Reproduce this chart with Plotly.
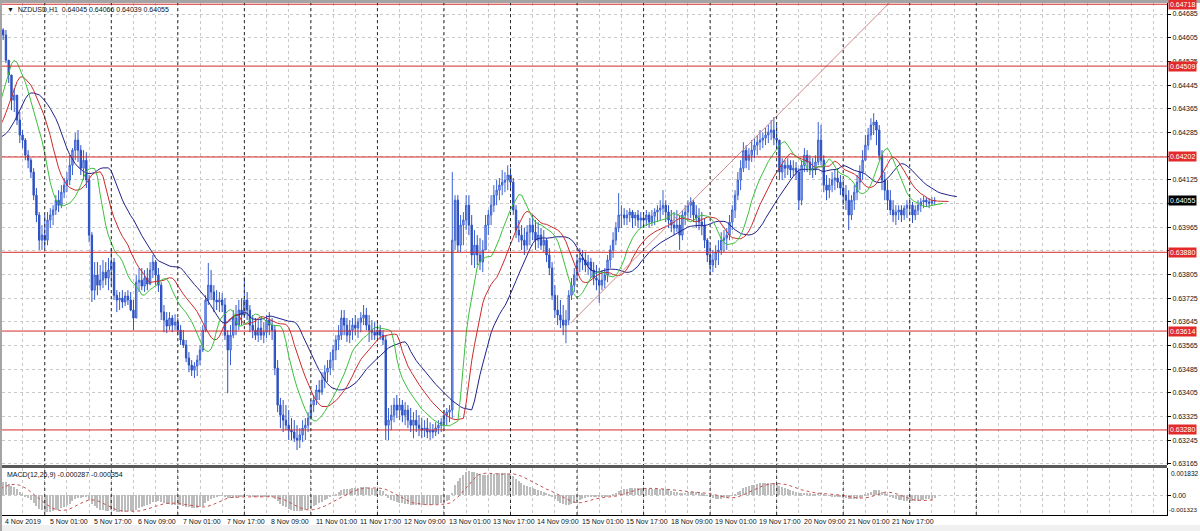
import numpy as np
import pandas as pd
import plotly.graph_objects as go
from plotly.subplots import make_subplots

# ---------------- data (NZDUSD H1, bar index 0 = 4 Nov 2019 00:00) ----------------
first_bar = -12
high = [
    # pre-history (off screen)
    0.64286,0.64293,0.64279,0.64289,0.64300,0.64286,0.64296,0.64303,0.64293,0.64306,0.64300,0.64310,
    0.64327,0.64377,0.64411,0.64455,0.64512,0.64563,0.64604,0.64631,0.64644,
    # 4 Nov
    0.64637,0.64631,0.64529,0.64468,0.64435,0.64411,0.64354,0.64293,0.64266,0.64225,0.64198,0.64164,0.64097,0.64016,0.63972,
    # 5 Nov
    0.64006,0.64016,0.64029,0.64039,0.64073,0.64090,0.64107,0.64131,0.64151,0.64208,0.64232,0.64283,0.64293,0.64242,0.64225,0.64218,0.64141,0.63948,0.63847,0.63847,0.63837,0.63854,0.63847,0.63861,
    # 6 Nov
    0.63894,0.63861,0.63752,0.63746,0.63752,0.63746,0.63752,0.63746,0.63719,0.63803,0.63827,0.63827,0.63820,0.63827,0.63847,0.63871,0.63854,0.63827,0.63779,0.63702,0.63678,0.63678,0.63668,0.63671,
    # 7 Nov
    0.63658,0.63634,0.63617,0.63584,0.63543,0.63516,0.63509,0.63533,0.63567,0.63634,0.63735,0.63844,0.63820,0.63769,0.63752,0.63746,0.63742,0.63725,0.63617,0.63634,0.63685,0.63702,0.63719,0.63725,
    # 8 Nov
    0.63796,0.63746,0.63702,0.63668,0.63658,0.63651,0.63658,0.63644,0.63668,0.63678,0.63658,0.63634,0.63516,0.63388,0.63381,0.63364,0.63347,0.63320,0.63313,0.63296,0.63286,0.63313,0.63320,0.63340,
    # 11 Nov
    0.63381,0.63398,0.63432,0.63448,0.63475,0.63499,0.63516,0.63543,0.63567,0.63600,0.63634,0.63685,0.63685,0.63658,0.63651,0.63658,0.63668,0.63658,0.63678,0.63702,0.63692,0.63668,0.63651,0.63644,
    # 12 Nov
    0.63644,0.63634,0.63617,0.63600,0.63354,0.63364,0.63388,0.63398,0.63388,0.63381,0.63374,0.63364,0.63354,0.63340,0.63347,0.63330,0.63320,0.63313,0.63320,0.63306,0.63300,0.63306,0.63313,0.63320,
    # 13 Nov
    0.63347,0.63354,0.63364,0.64151,0.64073,0.64073,0.64006,0.64016,0.64073,0.64073,0.64006,0.63955,0.63938,0.63928,0.63921,0.64006,0.64023,0.64073,0.64107,0.64124,0.64131,0.64158,0.64151,0.64174,
    # 14 Nov
    0.64164,0.64131,0.64039,0.63989,0.63972,0.63962,0.63972,0.63996,0.64006,0.63989,0.63982,0.63962,0.63955,0.63928,0.63894,0.63847,0.63769,0.63735,0.63719,0.63702,0.63685,0.63752,0.63793,0.63827,
    # 15 Nov
    0.63871,0.63894,0.63888,0.63881,0.63871,0.63861,0.63847,0.63837,0.63827,0.63820,0.63827,0.63871,0.63904,0.63948,0.63982,0.64080,0.64039,0.64029,0.64023,0.64029,0.64023,0.64016,0.64023,0.64016,
    # 18 Nov
    0.64016,0.64023,0.64016,0.64023,0.64029,0.64039,0.64056,0.64090,0.64056,0.64039,0.64023,0.64016,0.64023,0.64006,0.64023,0.64039,0.64056,0.64066,0.64056,0.64039,0.64029,0.64016,0.63996,0.63928,
    # 19 Nov
    0.63904,0.63888,0.63904,0.63921,0.63948,0.63955,0.63962,0.64006,0.64039,0.64090,0.64151,0.64191,0.64252,0.64242,0.64232,0.64259,0.64266,0.64276,0.64293,0.64286,0.64300,0.64310,0.64327,0.64337,
    # 20 Nov
    0.64310,0.64259,0.64198,0.64191,0.64198,0.64191,0.64191,0.64185,0.64164,0.64191,0.64232,0.64225,0.64208,0.64198,0.64208,0.64320,0.64310,0.64208,0.64141,0.64131,0.64151,0.64158,0.64164,0.64141,
    # 21 Nov
    0.64124,0.64107,0.64090,0.64073,0.64107,0.64141,0.64174,0.64225,0.64276,0.64300,0.64333,0.64350,0.64327,0.64310,0.64225,0.64151,0.64124,0.64090,0.64056,0.64039,0.64039,0.64039,0.64039,0.64056,
    # 22 Nov
    0.64063,0.64050,0.64039,0.64056,0.64063,0.64070,0.64066,0.64063,0.64066,0.64066,
]
low = [
    0.64232,0.64239,0.64225,0.64235,0.64246,0.64232,0.64242,0.64249,0.64239,0.64252,0.64246,0.64256,
    0.64242,0.64300,0.64344,0.64381,0.64428,0.64479,0.64529,0.64570,0.64597,
    0.64597,0.64519,0.64452,0.64360,0.64354,0.64310,0.64249,0.64232,0.64191,0.64164,0.64131,0.64056,0.63982,0.63888,0.63888,
    0.63894,0.63904,0.63962,0.63972,0.64006,0.64016,0.64029,0.64063,0.64083,0.64107,0.64141,0.64191,0.64185,0.64141,0.64124,0.64097,0.63914,0.63712,0.63719,0.63735,0.63752,0.63759,0.63769,0.63752,
    0.63769,0.63719,0.63678,0.63685,0.63692,0.63698,0.63702,0.63681,0.63617,0.63658,0.63746,0.63752,0.63746,0.63752,0.63769,0.63793,0.63769,0.63746,0.63651,0.63610,0.63607,0.63617,0.63610,0.63617,
    0.63600,0.63567,0.63557,0.63509,0.63475,0.63462,0.63455,0.63462,0.63499,0.63543,0.63610,0.63702,0.63719,0.63678,0.63685,0.63678,0.63678,0.63584,0.63404,0.63499,0.63590,0.63600,0.63617,0.63634,
    0.63658,0.63651,0.63610,0.63590,0.63584,0.63577,0.63584,0.63573,0.63590,0.63600,0.63584,0.63465,0.63340,0.63286,0.63273,0.63279,0.63246,0.63246,0.63239,0.63212,0.63219,0.63239,0.63246,0.63273,
    0.63320,0.63340,0.63364,0.63381,0.63398,0.63421,0.63442,0.63465,0.63482,0.63516,0.63550,0.63584,0.63600,0.63577,0.63573,0.63584,0.63600,0.63590,0.63610,0.63634,0.63617,0.63577,0.63584,0.63584,
    0.63590,0.63584,0.63567,0.63246,0.63246,0.63279,0.63306,0.63320,0.63313,0.63306,0.63296,0.63286,0.63273,0.63252,0.63273,0.63259,0.63252,0.63256,0.63252,0.63246,0.63252,0.63259,0.63266,0.63273,
    0.63286,0.63296,0.63306,0.63320,0.63888,0.63881,0.63881,0.63904,0.63955,0.63938,0.63837,0.63827,0.63837,0.63820,0.63813,0.63888,0.63938,0.63972,0.64016,0.64039,0.64056,0.64073,0.64083,0.64090,
    0.64097,0.64006,0.63928,0.63914,0.63888,0.63871,0.63888,0.63904,0.63921,0.63888,0.63894,0.63888,0.63881,0.63847,0.63803,0.63719,0.63658,0.63634,0.63624,0.63600,0.63573,0.63634,0.63719,0.63746,
    0.63786,0.63813,0.63820,0.63813,0.63803,0.63793,0.63769,0.63752,0.63709,0.63752,0.63759,0.63779,0.63827,0.63861,0.63904,0.63948,0.63962,0.63972,0.63972,0.63982,0.63962,0.63969,0.63962,0.63962,
    0.63962,0.63969,0.63962,0.63969,0.63972,0.63982,0.63989,0.64006,0.63982,0.63962,0.63948,0.63938,0.63948,0.63888,0.63921,0.63972,0.63989,0.63996,0.63982,0.63962,0.63955,0.63938,0.63894,0.63847,
    0.63803,0.63813,0.63827,0.63837,0.63871,0.63881,0.63888,0.63921,0.63955,0.63996,0.64056,0.64090,0.64151,0.64164,0.64158,0.64185,0.64198,0.64208,0.64225,0.64232,0.64242,0.64249,0.64259,0.64242,
    0.64225,0.64124,0.64124,0.64131,0.64141,0.64131,0.64137,0.64124,0.64023,0.64039,0.64151,0.64151,0.64141,0.64131,0.64141,0.64174,0.64174,0.64083,0.64056,0.64063,0.64083,0.64090,0.64097,0.64073,
    0.64039,0.64023,0.63955,0.63989,0.64023,0.64056,0.64090,0.64124,0.64191,0.64225,0.64259,0.64276,0.64242,0.64191,0.64090,0.64056,0.64023,0.64006,0.63982,0.63972,0.63989,0.63982,0.63989,0.63996,
    0.64006,0.63979,0.63989,0.64006,0.64016,0.64029,0.64033,0.64029,0.64036,0.64039,
]
close = [
    0.64259,0.64266,0.64252,0.64262,0.64273,0.64259,0.64269,0.64276,0.64266,0.64279,0.64273,0.64283,
    0.64310,0.64360,0.64394,0.64435,0.64496,0.64546,0.64590,0.64614,0.64631,
    0.64614,0.64529,0.64479,0.64394,0.64411,0.64327,0.64276,0.64259,0.64208,0.64191,0.64151,0.64073,0.64006,0.63921,0.63938,
    0.63921,0.63989,0.64006,0.64023,0.64056,0.64039,0.64083,0.64107,0.64124,0.64174,0.64225,0.64259,0.64225,0.64164,0.64191,0.64124,0.63938,0.63752,0.63803,0.63769,0.63786,0.63813,0.63793,0.63820,
    0.63847,0.63735,0.63719,0.63725,0.63712,0.63732,0.63719,0.63685,0.63658,0.63779,0.63786,0.63766,0.63793,0.63773,0.63820,0.63847,0.63803,0.63769,0.63678,0.63651,0.63631,0.63658,0.63634,0.63644,
    0.63617,0.63584,0.63567,0.63523,0.63499,0.63482,0.63496,0.63516,0.63550,0.63617,0.63719,0.63769,0.63746,0.63719,0.63712,0.63719,0.63702,0.63600,0.63550,0.63600,0.63658,0.63634,0.63685,0.63668,
    0.63719,0.63685,0.63634,0.63617,0.63600,0.63624,0.63600,0.63610,0.63651,0.63634,0.63617,0.63489,0.63364,0.63330,0.63313,0.63296,0.63279,0.63273,0.63252,0.63246,0.63263,0.63286,0.63296,0.63320,
    0.63364,0.63381,0.63415,0.63408,0.63448,0.63475,0.63489,0.63516,0.63550,0.63584,0.63600,0.63658,0.63634,0.63600,0.63617,0.63634,0.63624,0.63644,0.63658,0.63668,0.63634,0.63617,0.63610,0.63600,
    0.63617,0.63600,0.63584,0.63296,0.63313,0.63330,0.63364,0.63347,0.63364,0.63330,0.63347,0.63313,0.63296,0.63313,0.63296,0.63286,0.63279,0.63286,0.63273,0.63279,0.63273,0.63286,0.63296,0.63306,
    0.63330,0.63340,0.63347,0.63921,0.64056,0.63904,0.63972,0.63989,0.64039,0.63972,0.63871,0.63904,0.63871,0.63847,0.63888,0.63972,0.64006,0.64039,0.64073,0.64090,0.64107,0.64117,0.64124,0.64141,
    0.64117,0.64023,0.63955,0.63938,0.63921,0.63904,0.63948,0.63972,0.63948,0.63921,0.63938,0.63904,0.63921,0.63871,0.63827,0.63735,0.63685,0.63668,0.63651,0.63634,0.63651,0.63735,0.63769,0.63803,
    0.63847,0.63861,0.63854,0.63837,0.63847,0.63820,0.63793,0.63786,0.63769,0.63786,0.63803,0.63854,0.63888,0.63921,0.63962,0.64006,0.64006,0.63996,0.64006,0.64016,0.63996,0.64006,0.63989,0.63996,
    0.63989,0.64006,0.63982,0.64002,0.64016,0.64023,0.64029,0.64039,0.64016,0.63989,0.63972,0.63962,0.63972,0.63938,0.64006,0.64016,0.64039,0.64050,0.64006,0.63996,0.63982,0.63972,0.63921,0.63871,
    0.63837,0.63854,0.63881,0.63888,0.63921,0.63928,0.63938,0.63982,0.64023,0.64073,0.64124,0.64164,0.64225,0.64191,0.64208,0.64225,0.64242,0.64252,0.64259,0.64266,0.64276,0.64286,0.64293,0.64266,
    0.64259,0.64151,0.64174,0.64164,0.64174,0.64158,0.64164,0.64151,0.64056,0.64174,0.64208,0.64185,0.64164,0.64158,0.64185,0.64259,0.64191,0.64107,0.64090,0.64107,0.64124,0.64131,0.64117,0.64097,
    0.64073,0.64056,0.64006,0.64056,0.64083,0.64117,0.64151,0.64191,0.64242,0.64276,0.64310,0.64320,0.64293,0.64208,0.64124,0.64090,0.64056,0.64023,0.64006,0.64016,0.64023,0.64006,0.64029,0.64039,
    0.64039,0.64006,0.64023,0.64039,0.64050,0.64056,0.64050,0.64046,0.64053,0.64055,
]

levels = [0.64718, 0.64509, 0.64202, 0.63880, 0.63614, 0.63280]
trend_bars = [213.7, 328.6]
trend_prices = [0.63641, 0.64722]

price_ticks = [0.63165, 0.63245, 0.63325, 0.63405, 0.63485, 0.63565, 0.63645, 0.63725, 0.63805,
               0.63885, 0.63965, 0.64045, 0.64125, 0.64205, 0.64285, 0.64365, 0.64445, 0.64525,
               0.64605, 0.64685]
# labels that the terminal hides under a price box
hidden_price_ticks = [0.63885, 0.64045, 0.64205]
time_label_bars = [9, 25, 41, 57, 73, 89, 105, 121, 137, 153, 169, 185, 201, 217, 233, 249, 265, 281, 297, 313, 329]
time_labels = ["4 Nov 2019", "5 Nov 01:00", "5 Nov 17:00", "6 Nov 09:00", "7 Nov 01:00", "7 Nov 17:00",
               "8 Nov 09:00", "11 Nov 01:00", "11 Nov 17:00", "12 Nov 09:00", "13 Nov 01:00", "13 Nov 17:00",
               "14 Nov 09:00", "15 Nov 01:00", "15 Nov 17:00", "18 Nov 09:00", "19 Nov 01:00", "19 Nov 17:00",
               "20 Nov 09:00", "21 Nov 01:00", "21 Nov 17:00"]
day_separators = [24, 48, 72, 96, 120, 144, 168, 192, 216, 240, 264, 288, 312, 336, 360]

# ---------------- derived ----------------
n = len(close)
bars = np.arange(first_bar, first_bar + n)
c = pd.Series(close, dtype=float)
h = pd.Series(high, dtype=float)
l = pd.Series(low, dtype=float)
o = c.shift(1).fillna(c.iloc[0])
h_plot = np.maximum.reduce([h.values, o.values, c.values])
l_plot = np.minimum.reduce([l.values, o.values, c.values])

median = (h + l) / 2.0
def smma(s, p):
    return s.ewm(alpha=1.0 / p, adjust=False).mean()
jaw = smma(median, 13)
teeth = smma(median, 8)
lips = smma(median, 5)

ema12 = c.ewm(span=12, adjust=False).mean()
ema26 = c.ewm(span=26, adjust=False).mean()
macd = ema12 - ema26
signal = macd.rolling(9).mean()

XMIN, XMAX = 8.58, 428.8
YMIN, YMAX = 0.631616, 0.647222
MMIN, MMAX = -0.001323, 0.001832
FONT = "Liberation Sans"
FS = 7

fig = make_subplots(rows=2, cols=1, shared_xaxes=True)

fig.add_trace(go.Candlestick(
    x=bars, open=o, high=h_plot, low=l_plot, close=c,
    increasing=dict(line=dict(color="#3a60d2", width=1), fillcolor="#a3b8ea"),
    decreasing=dict(line=dict(color="#2c50c4", width=1), fillcolor="#2c50c4"),
    whiskerwidth=0, hoverinfo="skip", showlegend=False), row=1, col=1)

for s, shift, col in [(jaw, 8, "#20208c"), (teeth, 5, "#cc2b2b"), (lips, 3, "#3cc03c")]:
    fig.add_trace(go.Scatter(x=bars + shift, y=s, mode="lines",
                             line=dict(color=col, width=1), hoverinfo="skip", showlegend=False),
                  row=1, col=1)

fig.add_trace(go.Scatter(x=trend_bars, y=trend_prices, mode="lines",
                         line=dict(color="#cf8a8a", width=1), hoverinfo="skip", showlegend=False),
              row=1, col=1)

vis = bars >= 8
fig.add_trace(go.Bar(x=bars[vis], y=macd[vis], width=0.45, marker=dict(color="#bcbcbc", line=dict(width=0)),
                     hoverinfo="skip", showlegend=False), row=2, col=1)
fig.add_trace(go.Scatter(x=bars[vis], y=signal[vis], mode="lines",
                         line=dict(color="#c85050", width=1, dash="dot"),
                         hoverinfo="skip", showlegend=False), row=2, col=1)

grid = dict(showgrid=True, gridcolor="#c9c9c9", griddash="dot", gridwidth=1)
for ax in ["xaxis", "xaxis2"]:
    fig.layout[ax].update(range=[XMIN, XMAX], tick0=0, dtick=8, showticklabels=False, ticks="",
                          zeroline=False, **grid)
fig.update_layout(xaxis_rangeslider_visible=False)
fig.layout.xaxis2.update(showline=True, linecolor="#000000", linewidth=1)

tick_text = ["" if v in hidden_price_ticks else f"{v:.5f}" for v in price_ticks]
fig.layout.yaxis.update(domain=[0.0977, 1.0], range=[YMIN, YMAX], side="right", tickvals=price_ticks,
                        ticktext=tick_text, ticks="outside", ticklen=3, tickcolor="#000000",
                        tickfont=dict(family=FONT, size=FS, color="#111111"),
                        showline=True, linecolor="#000000", linewidth=1, zeroline=False, **grid)
fig.layout.yaxis2.update(domain=[0.0, 0.0918], range=[MMIN, MMAX], side="right", tickvals=[0.0],
                         ticktext=["0.00"], ticks="outside", ticklen=3, tickcolor="#000000",
                         tickfont=dict(family=FONT, size=FS, color="#111111"),
                         showline=True, linecolor="#000000", linewidth=1, zeroline=False, **grid)

shapes = []
for v in levels:
    shapes.append(dict(type="line", xref="x domain", yref="y", x0=0, x1=1, y0=v, y1=v,
                       line=dict(color="#d42a2a", width=1)))
for d in day_separators:
    shapes.append(dict(type="line", xref="x", yref="paper", x0=d, x1=d, y0=0, y1=1,
                       line=dict(color="#2a2a2a", width=1, dash="dot")))
# window chrome
shapes += [
    dict(type="rect", xref="paper", yref="paper", x0=-0.01, x1=1.03, y0=1.0, y1=1.01,
         line=dict(width=0), fillcolor="#a4a4a4"),
    dict(type="rect", xref="paper", yref="paper", x0=-0.0018, x1=0.0, y0=-0.04, y1=1.01,
         line=dict(width=0), fillcolor="#a4a4a4"),
    dict(type="rect", xref="paper", yref="paper", x0=0.0, x1=1.0, y0=0.0918, y1=0.0977,
         line=dict(width=0), fillcolor="#5a5a5a"),
    dict(type="rect", xref="paper", yref="paper", x0=-0.01, x1=1.03, y0=-0.04, y1=-0.0195,
         line=dict(width=0), fillcolor="#f0f0f0", layer="below"),
]

ann = []
ann.append(dict(xref="paper", yref="paper", x=0, y=1, xanchor="left", yanchor="top", xshift=3, yshift=-1,
                text="\u25BC  NZDUSD,H1  0.64045 0.64066 0.64039 0.64055", showarrow=False,
                font=dict(family=FONT, size=FS, color="#111111")))
ann.append(dict(xref="paper", yref="paper", x=0, y=0.0918, xanchor="left", yanchor="top", xshift=3, yshift=-1,
                text="MACD(12,26,9) -0.000287 -0.000354", showarrow=False,
                font=dict(family=FONT, size=FS, color="#111111")))
for v in levels:
    ann.append(dict(xref="paper", yref="y", x=1, y=v, xanchor="left", yanchor="middle", xshift=1,
                    text=f"{v:.5f}", showarrow=False, bgcolor="#e32a2a", borderpad=1,
                    font=dict(family=FONT, size=FS, color="#ffffff")))
ann.append(dict(xref="paper", yref="y", x=1, y=close[-1], xanchor="left", yanchor="middle", xshift=1,
                text=f"{close[-1]:.5f}", showarrow=False, bgcolor="#000000", borderpad=1,
                font=dict(family=FONT, size=FS, color="#ffffff")))
ann.append(dict(xref="paper", yref="y2", x=1, y=MMAX, xanchor="left", yanchor="top", xshift=2,
                text="0.001832", showarrow=False, font=dict(family=FONT, size=6.5, color="#111111")))
ann.append(dict(xref="paper", yref="y2", x=1, y=MMIN, xanchor="left", yanchor="bottom", xshift=0,
                text="-0.001323", showarrow=False, font=dict(family=FONT, size=6.2, color="#111111")))
for b, t in zip(time_label_bars, time_labels):
    ann.append(dict(xref="x2", yref="paper", x=b, y=0, xanchor="left", yanchor="top", yshift=-1,
                    text=t, showarrow=False, font=dict(family=FONT, size=FS, color="#111111")))

fig.update_layout(width=1200, height=531, margin=dict(l=2, r=28, t=3, b=16),
                  paper_bgcolor="#ffffff", plot_bgcolor="#ffffff", shapes=shapes, annotations=ann,
                  showlegend=False, bargap=0)

fig.write_html("out.html", config={"displayModeBar": False},
               post_script="document.body.style.margin='0px';document.body.style.overflow='hidden';")
